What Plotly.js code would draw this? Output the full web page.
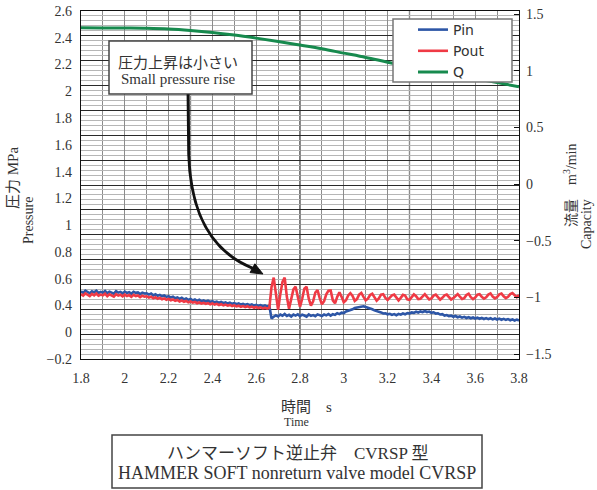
<!DOCTYPE html>
<html><head><meta charset="utf-8">
<script src="https://cdn.plot.ly/plotly-3.0.1.min.js"></script>
<style>html,body{margin:0;padding:0;background:#fff}#chart{width:597px;height:490px}</style>
</head><body><div id="chart"></div>
<script>
// Time axis of the pressure records: start and sample step (s)
const pressureStart = 1.8;
const pressureStep = 0.01;

// Pin (MPa), 1.80 s .. 3.80 s every 0.01 s
const pinValues = [
  0.345,0.332,0.350,0.338,0.329,0.344,0.336,0.349,0.331,0.340,
  0.333,0.347,0.330,0.342,0.336,0.326,0.345,0.334,0.340,0.328,
  0.343,0.331,0.338,0.325,0.341,0.332,0.336,0.322,0.334,0.327,
  0.329,0.318,0.326,0.312,0.321,0.309,0.316,0.305,0.311,0.300,
  0.306,0.295,0.301,0.289,0.296,0.284,0.292,0.280,0.287,0.276,
  0.283,0.272,0.279,0.268,0.276,0.265,0.271,0.262,0.269,0.259,
  0.266,0.256,0.262,0.252,0.259,0.249,0.256,0.246,0.253,0.244,
  0.250,0.241,0.247,0.238,0.244,0.236,0.242,0.233,0.239,0.230,
  0.236,0.228,0.234,0.225,0.231,0.222,0.228,
  0.125,0.140,0.152,
  0.143,0.158,0.148,0.162,0.146,0.155,0.141,0.157,0.149,0.160,
  0.145,0.156,0.150,0.141,0.158,0.147,0.153,0.144,0.159,0.150,
  0.146,0.158,0.151,0.162,0.149,0.160,0.155,0.168,0.161,0.173,
  0.170,0.182,0.186,0.195,0.200,0.211,0.214,0.222,0.226,0.224,
  0.218,0.214,0.205,0.200,0.191,0.187,0.178,0.175,0.166,0.168,
  0.160,0.164,0.155,0.161,0.152,0.163,0.157,0.166,0.160,0.170,
  0.166,0.175,0.171,0.180,0.174,0.183,0.177,0.186,0.178,0.182,
  0.172,0.176,0.165,0.168,0.158,0.161,0.150,0.154,0.145,0.149,
  0.140,0.146,0.136,0.142,0.133,0.139,0.130,0.137,0.128,0.134,
  0.126,0.133,0.124,0.131,0.122,0.129,0.121,0.128,0.119,0.126,
  0.118,0.125,0.116,0.123,0.115,0.121,0.112,0.119,0.110,0.117,
  0.110
];

// Pout (MPa), 1.80 s .. 3.80 s every 0.01 s
const poutValues = [
  0.322,0.310,0.328,0.315,0.306,0.324,0.312,0.327,0.309,0.318,
  0.312,0.325,0.305,0.320,0.313,0.302,0.322,0.310,0.317,0.304,
  0.318,0.306,0.314,0.300,0.316,0.306,0.311,0.298,0.309,0.302,
  0.305,0.294,0.301,0.288,0.297,0.285,0.292,0.281,0.288,0.277,
  0.284,0.273,0.279,0.268,0.275,0.263,0.271,0.260,0.267,0.256,
  0.263,0.253,0.259,0.249,0.256,0.246,0.252,0.243,0.250,0.240,
  0.247,0.238,0.244,0.234,0.241,0.231,0.238,0.229,0.235,0.226,
  0.232,0.223,0.229,0.220,0.226,0.217,0.224,0.215,0.221,0.212,
  0.219,0.210,0.216,0.207,0.213,0.205,0.212,
  0.380,0.455,0.310,
  0.195,0.320,0.420,0.455,0.300,0.205,0.280,0.360,0.382,0.285,
  0.220,0.285,0.365,0.382,0.285,0.230,0.265,0.335,0.355,0.290,
  0.240,0.265,0.320,0.350,0.352,0.272,0.248,0.300,0.337,0.300,
  0.256,0.272,0.312,0.330,0.308,0.268,0.282,0.318,0.332,0.300,
  0.272,0.285,0.315,0.325,0.296,0.270,0.288,0.318,0.322,0.292,
  0.275,0.290,0.312,0.318,0.290,0.272,0.292,0.316,0.310,0.280,
  0.276,0.298,0.320,0.305,0.282,0.285,0.305,0.322,0.300,0.280,
  0.288,0.310,0.318,0.296,0.278,0.292,0.312,0.318,0.294,0.279,
  0.290,0.310,0.322,0.302,0.283,0.290,0.315,0.325,0.298,0.282,
  0.295,0.318,0.322,0.300,0.285,0.296,0.318,0.328,0.302,0.288,
  0.298,0.320,0.326,0.305,0.290,0.300,0.322,0.330,0.310,0.298,
  0.315
];

// Q (m3/min)
const timeQ = [1.8,1.9,2.0,2.1,2.2,2.3,2.4,2.5,2.6,2.7,2.8,2.9,3.0,3.1,3.2,3.3,3.4,3.5,3.6,3.7,3.8];
const flowQ = [1.378,1.377,1.376,1.374,1.368,1.355,1.337,1.314,1.287,1.258,1.226,1.193,1.155,1.117,1.075,1.035,0.998,0.962,0.930,0.895,0.858];

const seriesNames = ["Pin", "Pout", "Q"];
// left-axis labels as printed (evenly spread over the axis height)
const leftTickLabels = ["\u22120.2","0","0.4","0.6","0.8","1","1.2","1.4","1.6","1.8","2","2.2","2.4","2.6"];
// times of the darker vertical grid lines
const darkGridTimes = [2.3, 2.8, 3.3];

const serif = "'Liberation Serif', 'Noto Sans CJK JP', serif";
const sans = "'DejaVu Sans', 'Liberation Sans', sans-serif";

const pMin = -0.2, pMax = 2.6;
const labelPositions = leftTickLabels.map((_, i) => pMin + i * (pMax - pMin) / (leftTickLabels.length - 1));

const traces = [
  {type:'scatter', mode:'lines', name:seriesNames[0], x0:pressureStart, dx:pressureStep, y:pinValues,
   xaxis:'x', yaxis:'y', line:{color:'#2d56a6', width:2.6}},
  {type:'scatter', mode:'lines', name:seriesNames[1], x0:pressureStart, dx:pressureStep, y:poutValues,
   xaxis:'x', yaxis:'y3', line:{color:'#ef3a45', width:2.6}},
  {type:'scatter', mode:'lines', name:seriesNames[2], x:timeQ, y:flowQ,
   xaxis:'x', yaxis:'y2', line:{color:'#178a4e', width:3, shape:'spline'}}
];

function px2paperX(p){ return (p-81)/438; }
function px2paperY(p){ return (359-p)/348; }

const darkGridShapes = darkGridTimes.map(t => ({
  type:'line', xref:'x', yref:'paper', x0:t, x1:t, y0:0, y1:1,
  line:{color:'#222', width:1.2}, layer:'between'
}));

const layout = {
  width:597, height:490,
  margin:{l:81, r:78, t:11, b:131, pad:0},
  paper_bgcolor:'#ffffff', plot_bgcolor:'#ffffff',
  font:{family:serif, size:14, color:'#333'},
  showlegend:true,
  legend:{x:px2paperX(413), y:px2paperY(14), xanchor:'left', yanchor:'top',
          bgcolor:'rgba(0,0,0,0)', borderwidth:0,
          font:{family:sans, size:14, color:'#333'}},
  xaxis:{range:[1.8,3.8], tick0:1.8, dtick:0.2, showgrid:true, gridcolor:'#8c8c8c', gridwidth:1,
         minor:{dtick:0.1, showgrid:true, gridcolor:'#8c8c8c', gridwidth:1},
         showline:true, linecolor:'#111', linewidth:1.2, mirror:true, ticks:'', zeroline:false,
         tickfont:{family:serif, size:14, color:'#333'}, ticklabelstandoff:6},
  yaxis:{range:[pMin,pMax], tick0:pMin, dtick:0.2, showgrid:true, gridcolor:'#2a2a2a', gridwidth:1,
         minor:{dtick:0.04, showgrid:true, gridcolor:'#b6b6b6', gridwidth:1},
         showticklabels:false, ticks:'', showline:true, linecolor:'#111', linewidth:1.2, mirror:true, zeroline:false},
  yaxis3:{overlaying:'y', side:'left', anchor:'x', range:[pMin,pMax], tickmode:'array',
          tickvals:labelPositions, ticktext:leftTickLabels,
          showgrid:false, zeroline:false, showline:false, ticks:'',
          tickfont:{family:serif, size:14, color:'#333'}, ticklabelstandoff:8},
  yaxis2:{overlaying:'y', side:'right', anchor:'x', range:[-1.544,1.5265], tick0:-1.5, dtick:0.5,
          showgrid:false, zeroline:false, ticks:'inside', ticklen:5, tickcolor:'#111', showline:false,
          tickfont:{family:serif, size:14, color:'#333'}, ticklabelstandoff:6},
  shapes:darkGridShapes.concat([
    {type:'rect', xref:'paper', yref:'paper', x0:px2paperX(109), x1:px2paperX(252), y0:px2paperY(94), y1:px2paperY(41),
     line:{color:'#444', width:1.5}, fillcolor:'#ffffff', layer:'above'},
    {type:'rect', xref:'paper', yref:'paper', x0:px2paperX(393), x1:px2paperX(512), y0:px2paperY(82), y1:px2paperY(19),
     line:{color:'#777', width:1.5}, fillcolor:'#ffffff', layer:'above'},
    {type:'path', xref:'x', yref:'y', path:'M 2.289,1.93 L 2.292,1.45 C 2.30,0.95 2.40,0.66 2.585,0.53',
     line:{color:'#111', width:3}, layer:'above'},
    {type:'path', xref:'x', yref:'y', path:'M 2.631,0.484 L 2.572,0.495 L 2.594,0.566 Z',
     line:{color:'#111', width:1}, fillcolor:'#111', layer:'above'},
    {type:'rect', xref:'paper', yref:'paper', x0:px2paperX(112), x1:px2paperX(482), y0:px2paperY(488), y1:px2paperY(435),
     line:{color:'#444', width:1.5}, fillcolor:'#ffffff', layer:'above'}
  ]),
  annotations:[
    {text:'圧力上昇は小さい', xref:'paper', yref:'paper', x:px2paperX(178), y:px2paperY(63), showarrow:false,
     xanchor:'center', yanchor:'middle', font:{family:serif, size:15, color:'#333'}},
    {text:'Small pressure rise', xref:'paper', yref:'paper', x:px2paperX(178), y:px2paperY(79), showarrow:false,
     xanchor:'center', yanchor:'middle', font:{family:serif, size:15, color:'#333'}},
    {text:'ハンマーソフト逆止弁　CVRSP 型', xref:'paper', yref:'paper', x:px2paperX(297), y:px2paperY(453), showarrow:false,
     xanchor:'center', yanchor:'middle', font:{family:serif, size:17, color:'#333'}},
    {text:'HAMMER SOFT nonreturn valve model CVRSP', xref:'paper', yref:'paper', x:px2paperX(297), y:px2paperY(473), showarrow:false,
     xanchor:'center', yanchor:'middle', font:{family:serif, size:18, color:'#333'}},
    {text:'時間　s', xref:'paper', yref:'paper', x:px2paperX(306), y:px2paperY(407), showarrow:false,
     xanchor:'center', yanchor:'middle', font:{family:serif, size:15, color:'#333'}},
    {text:'Time', xref:'paper', yref:'paper', x:px2paperX(296), y:px2paperY(422), showarrow:false,
     xanchor:'center', yanchor:'middle', font:{family:serif, size:12, color:'#333'}},
    {text:'圧力 MPa', xref:'paper', yref:'paper', x:px2paperX(13), y:px2paperY(178), showarrow:false, textangle:-90,
     xanchor:'center', yanchor:'middle', font:{family:serif, size:15, color:'#333'}},
    {text:'Pressure', xref:'paper', yref:'paper', x:px2paperX(28), y:px2paperY(221), showarrow:false, textangle:-90,
     xanchor:'center', yanchor:'middle', font:{family:serif, size:14, color:'#333'}},
    {text:'流量　m<sup>3</sup>/min', xref:'paper', yref:'paper', x:px2paperX(570), y:px2paperY(186), showarrow:false, textangle:-90,
     xanchor:'center', yanchor:'middle', font:{family:serif, size:14, color:'#333'}},
    {text:'Capacity', xref:'paper', yref:'paper', x:px2paperX(587), y:px2paperY(224), showarrow:false, textangle:-90,
     xanchor:'center', yanchor:'middle', font:{family:serif, size:14, color:'#333'}}
  ]
};

Plotly.newPlot('chart', traces, layout, {displayModeBar:false, staticPlot:true});
</script>
</body></html>
